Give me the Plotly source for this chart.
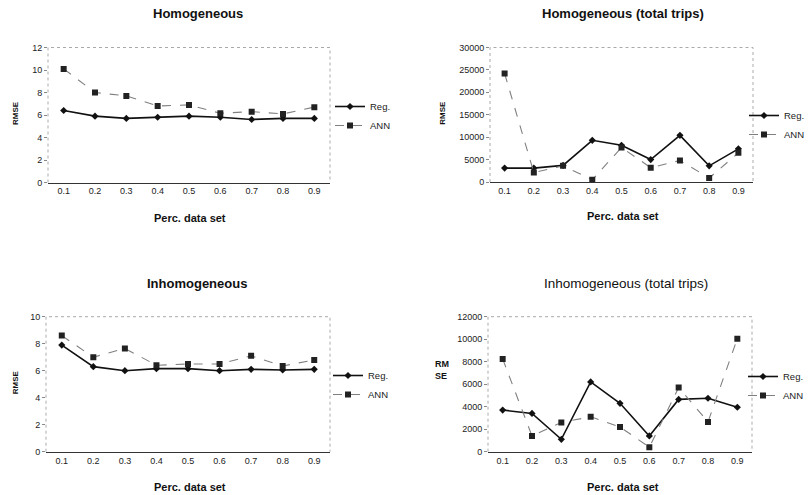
import plotly.graph_objects as go

categories = ["0.1", "0.2", "0.3", "0.4", "0.5", "0.6", "0.7", "0.8", "0.9"]

hom_reg = [6.4, 5.9, 5.7, 5.8, 5.9, 5.8, 5.6, 5.7, 5.7]
hom_ann = [10.1, 8.0, 7.7, 6.8, 6.9, 6.15, 6.3, 6.1, 6.7]

homtt_reg = [3100, 3100, 3700, 9300, 8200, 5000, 10400, 3600, 7400]
homtt_ann = [24200, 2100, 3600, 500, 7700, 3200, 4800, 900, 6500]

inh_reg = [7.9, 6.3, 6.0, 6.15, 6.15, 6.0, 6.1, 6.05, 6.1]
inh_ann = [8.6, 7.0, 7.65, 6.4, 6.5, 6.5, 7.1, 6.35, 6.8]

inhtt_reg = [3700, 3400, 1100, 6200, 4300, 1400, 4650, 4750, 3950]
inhtt_ann = [8250, 1400, 2600, 3100, 2200, 400, 5700, 2650, 10050]

titles = ["Homogeneous", "Homogeneous (total trips)", "Inhomogeneous", "Inhomogeneous (total trips)"]
series_names = ["Reg.", "ANN"]

W, H = 812, 495
FONT = "Liberation Sans, Arial, sans-serif"

def px(x):
    return x / W

def py(y):
    return 1 - y / H

# panel geometry in pixels: left, right, top, bottom
panels = [
    dict(l=48, r=330, t=47.5, b=182.5, rng=[0, 12], dt=2, reg=hom_reg, ann=hom_ann),
    dict(l=490, r=753, t=47.5, b=182, rng=[0, 30000], dt=5000, reg=homtt_reg, ann=homtt_ann),
    dict(l=46, r=330, t=316.7, b=451.7, rng=[0, 10], dt=2, reg=inh_reg, ann=inh_ann),
    dict(l=488, r=752, t=316.7, b=451.7, rng=[0, 12000], dt=2000, reg=inhtt_reg, ann=inhtt_ann),
]

fig = go.Figure()
layout = dict(
    width=W, height=H,
    margin=dict(l=0, r=0, t=0, b=0, autoexpand=False),
    paper_bgcolor="white", plot_bgcolor="white",
    font=dict(family=FONT, color="#111"),
    showlegend=True,
)

annotations = []
shapes = []

# legend top-left corner (pixels)
legend_pos = [(330, 92), (744, 101), (328, 361), (743, 362)]
title_pos = [(198, 14), (623, 14), (197, 283), (626, 283)]
xtitle_pos = [(190, 218), (623, 216), (190, 487), (623, 487)]

for i, p in enumerate(panels):
    n = "" if i == 0 else str(i + 1)
    xa, ya = "x" + n, "y" + n
    lg = "legend" + n
    fig.add_trace(go.Scatter(
        x=categories, y=p["reg"], name=series_names[0], xaxis=xa, yaxis=ya, legend=lg,
        mode="lines+markers",
        line=dict(color="#111", width=1.6),
        marker=dict(symbol="diamond", size=5.5, color="#111"),
    ))
    fig.add_trace(go.Scatter(
        x=categories, y=p["ann"], name=series_names[1], xaxis=xa, yaxis=ya, legend=lg,
        mode="lines+markers",
        line=dict(color="#808080", width=1.1, dash="dash"),
        marker=dict(symbol="square", size=6, color="#222"),
    ))
    layout["xaxis" + n] = dict(
        domain=[px(p["l"]), px(p["r"])], anchor=ya, type="category",
        range=[-0.5, 8.5], showgrid=False, zeroline=False,
        showline=True, linecolor="#333", linewidth=1.2,
        ticks="", tickfont=dict(size=9, family=FONT, color="#222"),
    )
    layout["yaxis" + n] = dict(
        domain=[py(p["b"]), py(p["t"])], anchor=xa,
        range=p["rng"], dtick=p["dt"], tickformat="d",
        showgrid=False, zeroline=False, showline=False,
        ticks="outside", ticklen=3, tickcolor="#888",
        tickfont=dict(size=9, family=FONT, color="#222"),
    )
    # light plot-area border (left, top, right)
    shapes.append(dict(type="path", xref=xa + " domain", yref=ya + " domain",
                       path="M 0 0 L 0 1 L 1 1 L 1 0",
                       line=dict(color="#aaa", width=1, dash="dot"), layer="below"))
    lx, ly = legend_pos[i]
    layout[lg] = dict(x=px(lx), y=py(ly), xanchor="left", yanchor="top",
                      bgcolor="rgba(0,0,0,0)", font=dict(size=9.5, family=FONT, color="#222"),
                      itemwidth=30, tracegroupgap=0)
    # title
    bold = i != 3
    tx, ty = title_pos[i]
    annotations.append(dict(
        text=("<b>%s</b>" % titles[i]) if bold else titles[i],
        x=px(tx), y=py(ty), xanchor="center", yanchor="middle",
        xref="paper", yref="paper", showarrow=False,
        font=dict(size=13 if bold else 13.5, family=FONT, color="#111")))
    # x title
    xx, xy = xtitle_pos[i]
    annotations.append(dict(
        text="<b>Perc. data set</b>", x=px(xx), y=py(xy), xanchor="center", yanchor="middle",
        xref="paper", yref="paper", showarrow=False,
        font=dict(size=11, family=FONT, color="#111")))
    # y title
    if i == 3:
        annotations.append(dict(
            text="<b>RM<br>SE</b>", x=px(433), y=py(370), xanchor="left", yanchor="middle",
            xref="paper", yref="paper",
            showarrow=False, align="left", font=dict(size=9, family=FONT, color="#111")))
    else:
        yx = 15 if i % 2 == 0 else 443
        yy = (p["t"] + p["b"]) / 2 - 2
        annotations.append(dict(
            text="<b>RMSE</b>", x=px(yx), y=py(yy), xanchor="center", yanchor="middle",
            xref="paper", yref="paper",
            showarrow=False, textangle=-90, font=dict(size=8, family=FONT, color="#111")))

layout["annotations"] = annotations
layout["shapes"] = shapes
fig.update_layout(**layout)
fig.write_html("out.html", config={"displayModeBar": False},
               post_script="document.body.style.margin='0';document.body.style.overflow='hidden';")
